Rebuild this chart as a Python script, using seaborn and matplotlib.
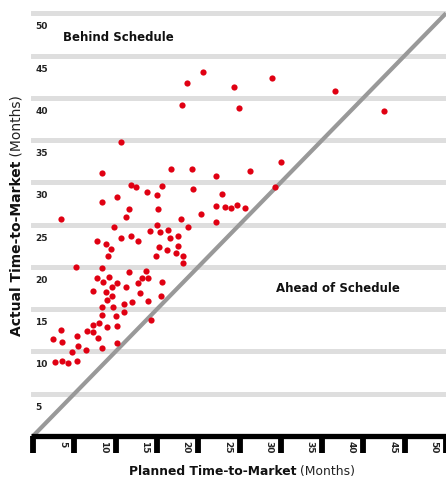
"""Planned vs actual time-to-market scatter, with schedule diagonal."""

import pandas as pd
import seaborn as sns
import matplotlib.pyplot as plt
from matplotlib.transforms import ScaledTranslation

# Data (months)
planned = [
    10.7, 18.0, 18.6, 20.6, 24.3, 24.9, 28.9, 36.6, 42.5,
    30.0, 8.3, 16.7, 19.2, 22.2, 26.3, 11.8, 12.5, 15.6, 29.3, 19.4,
    10.2, 13.8, 15.0, 22.9, 8.4, 22.2, 23.3, 24.0, 24.7, 25.7,
    11.6, 15.1, 20.3, 11.2, 3.4, 17.9, 22.1, 15.0, 9.8, 18.8,
    14.2, 15.4, 16.3, 17.6, 10.7, 11.9, 16.6, 7.7, 12.7, 8.8,
    15.2, 17.6, 9.4, 16.2, 17.3, 9.1, 14.9, 18.2, 18.1, 5.2,
    8.3, 13.7, 11.6, 7.8, 9.2, 13.2, 13.9, 8.5, 10.2, 15.6,
    12.7, 9.6, 11.2, 7.2, 8.8, 9.5, 13.0, 15.5, 8.9, 13.9,
    12.0, 11.0, 8.3, 9.7, 11.0, 8.4, 10.1, 14.3, 3.4, 7.2,
    8.0, 8.9, 10.2, 2.4, 3.5, 5.3, 6.5, 7.3, 7.9, 10.2,
    5.5, 6.4, 8.3, 4.7, 2.6, 3.5, 4.2, 5.3,
]
actual = [
    34.8, 39.1, 41.8, 43.1, 41.3, 38.8, 42.3, 40.8, 38.5,
    32.4, 31.1, 31.6, 31.6, 30.8, 31.4, 29.7, 29.4, 29.6, 29.5, 29.2,
    28.3, 28.9, 28.5, 28.6, 27.7, 27.2, 27.1, 27.0, 27.3, 27.0,
    26.8, 26.8, 26.3, 25.9, 25.7, 25.7, 25.3, 24.9, 24.7, 24.7,
    24.3, 24.1, 24.4, 23.7, 23.4, 23.6, 23.4, 23.1, 23.1, 22.7,
    22.4, 22.5, 22.1, 22.0, 21.7, 21.3, 21.3, 21.3, 20.5, 20.0,
    19.9, 19.5, 19.4, 18.7, 18.8, 18.7, 18.7, 18.2, 18.1, 18.2,
    18.1, 17.6, 17.6, 17.2, 17.0, 16.6, 16.9, 16.6, 16.1, 16.0,
    15.9, 15.6, 15.3, 15.2, 14.7, 14.3, 14.2, 13.7, 12.5, 13.1,
    13.4, 12.9, 13.0, 11.5, 11.1, 11.8, 12.4, 12.3, 11.6, 11.0,
    10.7, 10.2, 10.4, 9.9, 8.8, 8.9, 8.6, 8.9,
]
x_ticks = [0, 5, 10, 15, 20, 25, 30, 35, 40, 45, 50]
x_tick_labels = ["", "5", "10", "15", "20", "25", "30", "35", "40", "45", "50"]
y_ticks = [5, 10, 15, 20, 25, 30, 35, 40, 45, 50]
y_tick_labels = ["5", "10", "15", "20", "25", "30", "35", "40", "45", "50"]
diagonal = [0, 50]

df = pd.DataFrame({"planned": planned, "actual": actual})

sns.set_theme(style="white")
plt.rcParams["font.family"] = ["DejaVu Sans"]

fig = plt.figure(figsize=(4.46, 4.81), dpi=100)
ax = fig.add_axes([31 / 446, 44 / 481, 415 / 446, 432 / 481])

# Grid bands
for v in y_ticks:
    ax.axhline(v, color="#dedede", lw=3.6, zorder=0)

# Schedule diagonal
ax.plot(diagonal, diagonal, color="#999999", lw=3.0, zorder=1, solid_capstyle="butt")

sns.scatterplot(data=df, x="planned", y="actual", ax=ax, color="#e00012",
                s=20, linewidth=0, zorder=3)

ax.set_xlim(-0.25, 49.5)
ax.set_ylim(0, 51.1)

for side in ["top", "right", "left"]:
    ax.spines[side].set_visible(False)
ax.spines["bottom"].set_linewidth(3.8)
ax.spines["bottom"].set_color("black")
ax.spines["bottom"].set_capstyle("butt")

ax.set_xticks(x_ticks)
ax.set_xticklabels(x_tick_labels, rotation=-90, fontsize=6.5, fontweight="bold",
                   color="#222222")
ax.tick_params(axis="x", direction="out", length=12, width=4.2, color="black",
               pad=0, bottom=True)
for lab in ax.get_xticklabels():
    lab.set_transform(lab.get_transform()
                      + ScaledTranslation(-0.12, 0.13, fig.dpi_scale_trans))

ax.set_yticks(y_ticks)
ax.set_yticklabels(y_tick_labels, fontsize=6.5, fontweight="bold", color="#222222",
                   ha="left")
ax.tick_params(axis="y", length=0, pad=-3)
for lab in ax.get_yticklabels():
    lab.set_transform(lab.get_transform()
                      + ScaledTranslation(0, -0.115, fig.dpi_scale_trans))

ax.set_xlabel("")
ax.set_ylabel("")

# Region labels
ax.text(3.6, 47.3, "Behind Schedule", fontsize=8.5, fontweight="bold",
        va="center", ha="left", color="#111111")
ax.text(29.4, 17.6, "Ahead of Schedule", fontsize=8.5, fontweight="bold",
        va="center", ha="left", color="#111111")

# Axis titles: bold name + lighter unit
xt = fig.text(129 / 446, 1 - 472 / 481, "Planned Time-to-Market", fontsize=8.9,
              fontweight="bold", ha="left", va="center", color="#111111")
ax.annotate(" (Months)", xy=(1, 0.5), xycoords=xt, fontsize=8.9,
            ha="left", va="center", color="#222222")

yt = fig.text(17 / 446, 1 - 336 / 481, "Actual Time-to-Market", fontsize=10,
              fontweight="bold", rotation=90, ha="center", va="bottom",
              color="#111111")
ax.annotate(" (Months)", xy=(0.5, 1), xycoords=yt, fontsize=10, rotation=90,
            ha="center", va="bottom", color="#222222")

plt.savefig("out.png", dpi=100)
